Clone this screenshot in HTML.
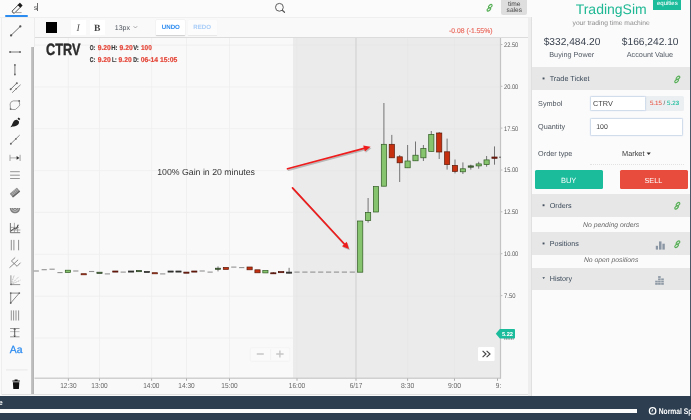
<!DOCTYPE html>
<html lang="en"><head><meta charset="utf-8"><title>TradingSim</title>
<style>
html,body{margin:0;padding:0}
body{text-rendering:geometricPrecision;width:691px;height:420px;overflow:hidden;position:relative;background:#fafafa;font-family:"Liberation Sans",sans-serif;color:#333}
.a{position:absolute;box-sizing:border-box}
#app{position:absolute;left:0;top:0;width:691px;height:420px;filter:blur(0.4px)}
#ov{position:absolute;overflow:visible;left:0;top:0;width:691px;height:420px;pointer-events:none}
.hdr{left:531.6px;width:158.3px;background:#e7e7e7}
.inp{background:#fff;border:0.9px solid #d2ddec;border-radius:1.5px;box-shadow:0 0 1.2px rgba(150,180,220,.45)}
.btn{border-radius:1.5px;height:19.1px;top:170.3px}
.tb{background:#fff;border-radius:0.5px;top:20.4px;height:14.4px}
.tb2{box-shadow:0 0.6px 1.2px rgba(0,0,0,.18)}
</style></head>
<body>
<div id="app">
<div class="a" id="topbar" style="left:-6px;top:-6px;width:538px;height:23.7px;background:#fbfbfb;border-bottom:1.4px solid #efefef"></div>
<div class="a" id="tools" style="left:0.5px;top:17.5px;width:33px;height:377.5px;background:#f9f9f9;border-left:1px solid #eeeeee"></div>
<div class="a" id="scroll" style="left:31px;top:47px;width:3.3px;height:348px;background:linear-gradient(90deg,#c8c8c8,#b2b2b2)"></div>
<div class="a" style="left:33.5px;top:18px;width:1.1px;height:29px;background:#ececec"></div>
<div class="a" id="charttb" style="left:34.5px;top:18px;width:494.5px;height:19.5px;background:#f9f9f9;border-bottom:1px solid #dcdcdc"></div>
<div class="a" id="chartbg" style="left:34.5px;top:38px;width:494.5px;height:357px;background:#f9f9f9"></div>
<div class="a" id="shade" style="left:293.1px;top:38px;width:207.4px;height:340px;background:#ebebeb"></div>
<div class="a" style="left:1.5px;top:394.2px;width:528.5px;height:1px;background:#e0e0e0"></div>
<div class="a" id="gutter" style="left:528.2px;top:17px;width:3.8px;height:380px;background:#eeeeee"></div>
<div class="a" id="sideborder" style="left:531.1px;top:17px;width:0.9px;height:380px;background:#e0e0e0"></div>
<div class="a" id="side" style="left:531.9px;top:-6px;width:158px;height:402.5px;background:#fbfbfb"></div>
<div class="a" id="edge" style="left:689.9px;top:-6px;width:7px;height:403px;background:#4a5868"></div>
<div class="a" id="bottom" style="left:-6px;top:396.3px;width:703px;height:30px;background:#2c3e50"></div>
<div class="a" id="progress" style="left:-6px;top:409.2px;width:643px;height:3.8px;background:#fcfcfc"></div>
<div class="a" style="left:5px;top:14.8px;width:23.2px;height:2px;background:#2d8cf0;border-radius:1px"></div>
<div class="a" style="left:37.3px;top:3.4px;width:0.6px;height:7.8px;background:#6a6a6a"></div>
<div class="a" style="left:501.4px;top:-6px;width:25.8px;height:21px;background:#dedede;border-radius:0 0 2px 2px"></div>
<div class="a" style="left:46.3px;top:22px;width:11px;height:10.6px;background:#000"></div>
<div class="a tb" style="left:71px;width:15px"></div>
<div class="a tb" style="left:89.6px;width:15px"></div>
<div class="a tb tb2" style="left:156.2px;width:29px"></div>
<div class="a tb" style="left:188.3px;width:28.3px;background:#fcfcfc;box-shadow:0 0.5px 1px rgba(0,0,0,.07)"></div>
<div class="a" style="left:653.2px;top:-6px;width:28.2px;height:16.3px;background:#1abc9c"></div>
<div class="a hdr" style="top:67px;height:22.7px"></div>
<div class="a" style="left:645px;top:95.6px;width:39px;height:15.2px;background:#eceff1;border-radius:0 1.5px 1.5px 0"></div>
<div class="a inp" style="left:589.8px;top:96.3px;width:56px;height:14.3px"></div>
<div class="a inp" style="left:589.9px;top:117.8px;width:93.6px;height:17.8px"></div>
<div class="a" style="left:589.5px;top:163.9px;width:94px;height:0;border-top:0.8px dotted #e2e2e2"></div>
<div class="a btn" style="left:534.8px;width:67.8px;background:#1abc9c"></div>
<div class="a btn" style="left:619.5px;width:68px;background:#e74c3c"></div>
<div class="a hdr" style="top:193.7px;height:23px"></div>
<div class="a hdr" style="top:232.3px;height:22.5px"></div>
<div class="a hdr" style="top:267.7px;height:22.8px"></div>
<svg id="ov" width="691" height="420" viewBox="0 0 691 420" font-family="Liberation Sans, sans-serif" text-rendering="geometricPrecision">
<g stroke="#eeeeee" stroke-width="0.8" fill="none">
<path d="M68.4 38V378"/>
<path d="M99.5 38V378"/>
<path d="M151.6 38V378"/>
<path d="M186.5 38V378"/>
<path d="M229.5 38V378"/>
<path d="M34.5 45.1H293.5"/>
<path d="M34.5 86.9H293.5"/>
<path d="M34.5 128.7H293.5"/>
<path d="M34.5 170.6H293.5"/>
<path d="M34.5 212.4H293.5"/>
<path d="M34.5 254.3H293.5"/>
<path d="M34.5 296.2H293.5"/>
<path d="M34.5 338.0H293.5"/>
</g>
<g stroke="#e6e6e6" stroke-width="0.7" fill="none">
<path d="M297 38V378"/>
<path d="M407.6 38V378"/>
<path d="M454.5 38V378"/>
<path d="M293.5 45.1H500"/>
<path d="M293.5 86.9H500"/>
<path d="M293.5 128.7H500"/>
<path d="M293.5 170.6H500"/>
<path d="M293.5 212.4H500"/>
<path d="M293.5 254.3H500"/>
<path d="M293.5 296.2H500"/>
</g>
<path d="M356 38V378" stroke="#d3d3d3" stroke-width="1.2"/>
<path d="M34.5 378.2H501" stroke="#d0d0d0" stroke-width="1.5"/>
<path d="M500.5 38V378.6" stroke="#c4c4c4" stroke-width="1.2"/>
<g stroke="#a5a5a5" stroke-width="0.7">
<path d="M501 44.5H502.4"/>
<path d="M501 86.3H502.4"/>
<path d="M501 128.1H502.4"/>
<path d="M501 170.0H502.4"/>
<path d="M501 211.8H502.4"/>
<path d="M501 253.70000000000002H502.4"/>
<path d="M501 295.6H502.4"/>
<path d="M68.4 378.6V380.8" stroke="#8a8a8a"/>
<path d="M99.5 378.6V380.8" stroke="#8a8a8a"/>
<path d="M151.6 378.6V380.8" stroke="#8a8a8a"/>
<path d="M186.5 378.6V380.8" stroke="#8a8a8a"/>
<path d="M229.5 378.6V380.8" stroke="#8a8a8a"/>
<path d="M297 378.6V380.8" stroke="#8a8a8a"/>
<path d="M407.6 378.6V380.8" stroke="#8a8a8a"/>
<path d="M454.5 378.6V380.8" stroke="#8a8a8a"/>
<path d="M356 378.6V380.8" stroke="#8a8a8a"/>
<path d="M497.5 378.6V380.8" stroke="#8a8a8a"/>
</g>
<g font-size="6.7" fill="#5a5a5a" lengthAdjust="spacingAndGlyphs">
<text x="504" y="46.9" textLength="14.2" lengthAdjust="spacingAndGlyphs">22.50</text>
<text x="504" y="88.7" textLength="14.2" lengthAdjust="spacingAndGlyphs">20.00</text>
<text x="504" y="130.5" textLength="14.2" lengthAdjust="spacingAndGlyphs">17.50</text>
<text x="504" y="172.4" textLength="14.2" lengthAdjust="spacingAndGlyphs">15.00</text>
<text x="504" y="214.2" textLength="14.2" lengthAdjust="spacingAndGlyphs">12.50</text>
<text x="504" y="256.1" textLength="14.2" lengthAdjust="spacingAndGlyphs">10.00</text>
<text x="504" y="298.0" textLength="11.5" lengthAdjust="spacingAndGlyphs">7.50</text>
</g>
<g font-size="7.3" fill="#666">
<text x="60.25" y="388.3" textLength="16.3" lengthAdjust="spacingAndGlyphs">12:30</text>
<text x="91.35" y="388.3" textLength="16.3" lengthAdjust="spacingAndGlyphs">13:00</text>
<text x="143.15" y="388.3" textLength="16.3" lengthAdjust="spacingAndGlyphs">14:00</text>
<text x="178.35" y="388.3" textLength="16.3" lengthAdjust="spacingAndGlyphs">14:30</text>
<text x="221.35" y="388.3" textLength="16.3" lengthAdjust="spacingAndGlyphs">15:00</text>
<text x="288.85" y="388.3" textLength="16.3" lengthAdjust="spacingAndGlyphs">16:00</text>
<text x="349.70" y="388.3" textLength="12.6" lengthAdjust="spacingAndGlyphs">6/17</text>
<text x="401.00" y="388.3" textLength="13.2" lengthAdjust="spacingAndGlyphs">8:30</text>
<text x="447.90" y="388.3" textLength="13.2" lengthAdjust="spacingAndGlyphs">9:00</text>
<text x="495.8" y="388.3" textLength="5.4" lengthAdjust="spacingAndGlyphs">9:</text>
</g>
<path d="M33.7 271H38.9" stroke="#929292" stroke-width="1.1"/>
<path d="M41.6 269.7H46.8" stroke="#929292" stroke-width="1.1"/>
<path d="M49.5 269.2H54.7" stroke="#929292" stroke-width="1.1"/>
<path d="M57.4 272.6H62.6" stroke="#929292" stroke-width="1.1"/>
<rect x="65.30" y="270.2" width="5.2" height="2.20" fill="#86c46d" stroke="#2f5a22" stroke-width="0.7"/>
<path d="M73.2 271H78.4" stroke="#929292" stroke-width="1.1"/>
<rect x="81.10" y="273.7" width="5.2" height="1.10" fill="#c7300f" stroke="#5a1a0a" stroke-width="0.7"/>
<path d="M89.0 271.5H94.2" stroke="#929292" stroke-width="1.1"/>
<rect x="96.90" y="272.2" width="5.2" height="1.20" fill="#4d7a3c" stroke="#2a3f22" stroke-width="0.7"/>
<path d="M104.8 273.9H110.0" stroke="#929292" stroke-width="1.1"/>
<rect x="112.70" y="271" width="5.2" height="1.10" fill="#8c1f0c" stroke="#4a1208" stroke-width="0.7"/>
<path d="M120.6 272.1H125.8" stroke="#929292" stroke-width="1.1"/>
<rect x="128.50" y="271" width="5.2" height="1.10" fill="#3a3a32" stroke="#2a2a2a" stroke-width="0.7"/>
<rect x="136.40" y="270.5" width="5.2" height="1.20" fill="#4d7a3c" stroke="#2a3f22" stroke-width="0.7"/>
<rect x="144.30" y="271.4" width="5.2" height="1.10" fill="#3a3a32" stroke="#2a2a2a" stroke-width="0.7"/>
<rect x="152.20" y="272.7" width="5.2" height="1.10" fill="#c7300f" stroke="#5a1a0a" stroke-width="0.7"/>
<path d="M160.1 273.9H165.3" stroke="#929292" stroke-width="1.1"/>
<rect x="168.00" y="271" width="5.2" height="1.10" fill="#3a3a32" stroke="#2a2a2a" stroke-width="0.7"/>
<rect x="175.90" y="271" width="5.2" height="1.10" fill="#3a3a32" stroke="#2a2a2a" stroke-width="0.7"/>
<rect x="183.80" y="272.1" width="5.2" height="1.10" fill="#8c1f0c" stroke="#4a1208" stroke-width="0.7"/>
<rect x="191.70" y="271" width="5.2" height="1.10" fill="#8c1f0c" stroke="#4a1208" stroke-width="0.7"/>
<path d="M199.6 271H204.8" stroke="#929292" stroke-width="1.1"/>
<path d="M207.5 272.1H212.7" stroke="#929292" stroke-width="1.1"/>
<path d="M218.0 266.4V271.4" stroke="#555" stroke-width="0.8"/>
<rect x="215.40" y="268.2" width="5.2" height="1.10" fill="#4d7a3c" stroke="#2a3f22" stroke-width="0.7"/>
<rect x="223.30" y="267.4" width="5.2" height="2.00" fill="#c7300f" stroke="#5a1a0a" stroke-width="0.7"/>
<path d="M231.2 267.1H236.4" stroke="#929292" stroke-width="1.1"/>
<path d="M239.1 267.6H244.3" stroke="#929292" stroke-width="1.1"/>
<rect x="247.00" y="267" width="5.2" height="2.80" fill="#c7300f" stroke="#5a1a0a" stroke-width="0.7"/>
<rect x="254.90" y="269.8" width="5.2" height="3.00" fill="#c7300f" stroke="#5a1a0a" stroke-width="0.7"/>
<rect x="262.80" y="270.5" width="5.2" height="2.40" fill="#86c46d" stroke="#2f5a22" stroke-width="0.7"/>
<path d="M273.3 272V274" stroke="#555" stroke-width="0.8"/>
<rect x="270.70" y="272.8" width="5.2" height="1.00" fill="#8c1f0c" stroke="#4a1208" stroke-width="0.7"/>
<rect x="278.60" y="271.6" width="5.2" height="1.10" fill="#8c1f0c" stroke="#4a1208" stroke-width="0.7"/>
<path d="M289.1 267.8V273.4" stroke="#555" stroke-width="0.8"/>
<rect x="286.50" y="272.1" width="5.2" height="1.10" fill="#3a3a32" stroke="#2a2a2a" stroke-width="0.7"/>
<path d="M294.4 272.1H299.6" stroke="#909090" stroke-width="1.1"/>
<path d="M302.3 272.1H307.5" stroke="#909090" stroke-width="1.1"/>
<path d="M310.2 272.1H315.4" stroke="#909090" stroke-width="1.1"/>
<path d="M318.1 272.1H323.3" stroke="#909090" stroke-width="1.1"/>
<path d="M326.0 272.1H331.2" stroke="#909090" stroke-width="1.1"/>
<path d="M333.9 272.1H339.1" stroke="#909090" stroke-width="1.1"/>
<path d="M341.8 272.1H347.0" stroke="#909090" stroke-width="1.1"/>
<path d="M349.7 272.1H354.9" stroke="#909090" stroke-width="1.1"/>
<rect x="357.60" y="221" width="5.2" height="51.20" fill="#86c46d" stroke="#2f5a22" stroke-width="0.7"/>
<path d="M368.1 198V222.6" stroke="#555" stroke-width="0.8"/>
<rect x="365.50" y="212.4" width="5.2" height="8.20" fill="#86c46d" stroke="#2f5a22" stroke-width="0.7"/>
<rect x="373.40" y="186.6" width="5.2" height="25.40" fill="#86c46d" stroke="#2f5a22" stroke-width="0.7"/>
<path d="M383.9 103V186.2" stroke="#555" stroke-width="0.8"/>
<rect x="381.30" y="144.3" width="5.2" height="41.90" fill="#86c46d" stroke="#2f5a22" stroke-width="0.7"/>
<path d="M391.8 134.9V157.8" stroke="#555" stroke-width="0.8"/>
<rect x="389.20" y="144.3" width="5.2" height="13.50" fill="#c7300f" stroke="#5a1a0a" stroke-width="0.7"/>
<path d="M399.7 155V182" stroke="#555" stroke-width="0.8"/>
<rect x="397.10" y="156.8" width="5.2" height="6.00" fill="#c7300f" stroke="#5a1a0a" stroke-width="0.7"/>
<path d="M407.6 145V167.8" stroke="#555" stroke-width="0.8"/>
<rect x="405.00" y="161" width="5.2" height="6.80" fill="#86c46d" stroke="#2f5a22" stroke-width="0.7"/>
<path d="M415.5 141.5V160.8" stroke="#555" stroke-width="0.8"/>
<rect x="412.90" y="155.2" width="5.2" height="5.60" fill="#86c46d" stroke="#2f5a22" stroke-width="0.7"/>
<path d="M423.4 145V161" stroke="#555" stroke-width="0.8"/>
<rect x="420.80" y="148.6" width="5.2" height="9.20" fill="#86c46d" stroke="#2f5a22" stroke-width="0.7"/>
<path d="M431.3 131V151.4" stroke="#555" stroke-width="0.8"/>
<rect x="428.70" y="134.4" width="5.2" height="17.00" fill="#86c46d" stroke="#2f5a22" stroke-width="0.7"/>
<path d="M439.2 132V159" stroke="#555" stroke-width="0.8"/>
<rect x="436.60" y="133" width="5.2" height="19.00" fill="#c7300f" stroke="#5a1a0a" stroke-width="0.7"/>
<path d="M447.1 138.6V169.6" stroke="#555" stroke-width="0.8"/>
<rect x="444.50" y="151.8" width="5.2" height="12.80" fill="#c7300f" stroke="#5a1a0a" stroke-width="0.7"/>
<path d="M455.0 159.5V173.4" stroke="#555" stroke-width="0.8"/>
<rect x="452.40" y="165.4" width="5.2" height="6.00" fill="#c7300f" stroke="#5a1a0a" stroke-width="0.7"/>
<path d="M462.9 162.4V174" stroke="#555" stroke-width="0.8"/>
<rect x="460.30" y="168.8" width="5.2" height="3.00" fill="#86c46d" stroke="#2f5a22" stroke-width="0.7"/>
<path d="M470.8 164.7V169.6" stroke="#555" stroke-width="0.8"/>
<rect x="468.20" y="165.9" width="5.2" height="1.30" fill="#4d7a3c" stroke="#2a3f22" stroke-width="0.7"/>
<path d="M478.7 161.8V168.7" stroke="#555" stroke-width="0.8"/>
<rect x="476.10" y="163.9" width="5.2" height="2.00" fill="#86c46d" stroke="#2f5a22" stroke-width="0.7"/>
<path d="M486.6 156V166.7" stroke="#555" stroke-width="0.8"/>
<rect x="484.00" y="159.9" width="5.2" height="4.70" fill="#86c46d" stroke="#2f5a22" stroke-width="0.7"/>
<path d="M494.5 146.4V164.7" stroke="#555" stroke-width="0.8"/>
<rect x="491.90" y="157" width="5.2" height="1.30" fill="#8c1f0c" stroke="#4a1208" stroke-width="0.7"/>
<path d="M499.2 157.2H500.8" stroke="#444" stroke-width="1"/>
<g opacity="0.3" transform="translate(0.9,1.3)">
<path d="M287.5 168.8L364.0 148.4" stroke="#444" stroke-width="1.7" stroke-linecap="round"/>
<path d="M370.6 146.7L364.9 151.5L363.2 145.4Z" fill="#444"/>
<path d="M292.5 187.9L344.4 244.0" stroke="#444" stroke-width="1.7" stroke-linecap="round"/>
<path d="M349 249L342.0 246.2L346.7 241.8Z" fill="#444"/>
</g>
<path d="M287.5 168.8L364.0 148.4" stroke="#ee1c1c" stroke-width="1.7" stroke-linecap="round"/>
<path d="M370.6 146.7L364.9 151.5L363.2 145.4Z" fill="#ee1c1c"/>
<path d="M292.5 187.9L344.4 244.0" stroke="#ee1c1c" stroke-width="1.7" stroke-linecap="round"/>
<path d="M349 249L342.0 246.2L346.7 241.8Z" fill="#ee1c1c"/>
<text x="157.2" y="174.9" font-size="8.75" fill="#333">100% Gain in 20 minutes</text>
<text x="46.1" y="55.2" font-size="16.4" font-weight="bold" fill="#2b2b2b" stroke="#2b2b2b" stroke-width="0.4" textLength="34.3" lengthAdjust="spacingAndGlyphs">CTRV</text>
<text x="89.7" y="49.5" font-size="7" font-weight="bold" fill="#3c3c3c" stroke="#3c3c3c" stroke-width="0.22" textLength="5.4" lengthAdjust="spacingAndGlyphs">O:</text>
<text x="97.7" y="49.5" font-size="7" font-weight="bold" fill="#e5483b" stroke="#e5483b" stroke-width="0.22" textLength="13.1" lengthAdjust="spacingAndGlyphs">9.20</text>
<text x="111.3" y="49.5" font-size="7" font-weight="bold" fill="#3c3c3c" stroke="#3c3c3c" stroke-width="0.22" textLength="6.2" lengthAdjust="spacingAndGlyphs">H:</text>
<text x="119.6" y="49.5" font-size="7" font-weight="bold" fill="#e5483b" stroke="#e5483b" stroke-width="0.22" textLength="13.1" lengthAdjust="spacingAndGlyphs">9.20</text>
<text x="133.2" y="49.5" font-size="7" font-weight="bold" fill="#3c3c3c" stroke="#3c3c3c" stroke-width="0.22" textLength="5.6" lengthAdjust="spacingAndGlyphs">V:</text>
<text x="141" y="49.5" font-size="7" font-weight="bold" fill="#e5483b" stroke="#e5483b" stroke-width="0.22" textLength="10.8" lengthAdjust="spacingAndGlyphs">100</text>
<text x="89.7" y="62" font-size="7" font-weight="bold" fill="#3c3c3c" stroke="#3c3c3c" stroke-width="0.22" textLength="5.4" lengthAdjust="spacingAndGlyphs">C:</text>
<text x="97.7" y="62" font-size="7" font-weight="bold" fill="#e5483b" stroke="#e5483b" stroke-width="0.22" textLength="13.1" lengthAdjust="spacingAndGlyphs">9.20</text>
<text x="111.9" y="62" font-size="7" font-weight="bold" fill="#3c3c3c" stroke="#3c3c3c" stroke-width="0.22" textLength="4.7" lengthAdjust="spacingAndGlyphs">L:</text>
<text x="118.6" y="62" font-size="7" font-weight="bold" fill="#e5483b" stroke="#e5483b" stroke-width="0.22" textLength="13.0" lengthAdjust="spacingAndGlyphs">9.20</text>
<text x="133.2" y="62" font-size="7" font-weight="bold" fill="#3c3c3c" stroke="#3c3c3c" stroke-width="0.22" textLength="5.5" lengthAdjust="spacingAndGlyphs">D:</text>
<text x="140.8" y="62" font-size="7" font-weight="bold" fill="#e5483b" stroke="#e5483b" stroke-width="0.22" textLength="36.5" lengthAdjust="spacingAndGlyphs">06-14 15:05</text>
<path d="M495.8 333.8L499.8 329H514.2Q515 329 515 329.8V337.8Q515 338.6 514.2 338.6H499.8Z" fill="#1abc9c"/>
<path d="M504.2 339H514" stroke="#1a2a2a" stroke-width="0.7" stroke-dasharray="1 0.7"/>
<text x="507.5" y="336" font-size="5.7" font-weight="bold" fill="#fff" text-anchor="middle">5.22</text>
<rect x="478" y="347" width="16.6" height="14" rx="1.2" fill="#fff"/>
<path d="M482.6 350.8L486 354L482.6 357.2M486.6 350.8L490 354L486.6 357.2" stroke="#444" stroke-width="1.15" fill="none"/>
<rect x="250.2" y="347.8" width="39.6" height="13.4" rx="1.2" fill="#fafafa" stroke="#f0f0f0" stroke-width="0.6"/>
<path d="M270.6 349V360" stroke="#ececec" stroke-width="0.6"/>
<path d="M256.8 354H263.8M276.2 354H283.6M279.9 350.4V357.6" stroke="#c6c6c6" stroke-width="1.4"/>
<g transform="translate(17.2,8.2) rotate(-45)"><path d="M-5.6 -1.55H3.2V1.55H-5.6Q-7 0 -5.6 -1.55Z" stroke="#444" stroke-width="0.9" fill="none" stroke-linejoin="round"/><path d="M2.6 -2H5.3Q5.8 -2 5.8 -1.5V1.5Q5.8 2 5.3 2H2.6Z" fill="#1c1c1c"/></g>
<path d="M15.8 12.6H21.6" stroke="#888" stroke-width="0.8"/>
<circle cx="279.4" cy="7.3" r="3.9" stroke="#555" stroke-width="0.95" fill="none"/><path d="M282.3 10.3L284.5 12.3" stroke="#555" stroke-width="1.2" stroke-linecap="round"/>
<path d="M133.6 26.2L135.4 28L137.2 26.2" stroke="#888" stroke-width="0.7" fill="none"/>
<path d="M646.6 152.6H650.8L648.7 154.9Z" fill="#333"/>
<g transform="translate(489.6,7.8) rotate(-40)" stroke="#58b058" stroke-width="1.2" fill="none"><ellipse cx="-1.55" cy="0.75" rx="2.15" ry="1.2"/><ellipse cx="1.55" cy="-0.75" rx="2.15" ry="1.2"/></g>
<g transform="translate(677.3,79.4) rotate(-40)" stroke="#58b058" stroke-width="1.2" fill="none"><ellipse cx="-1.55" cy="0.75" rx="2.15" ry="1.2"/><ellipse cx="1.55" cy="-0.75" rx="2.15" ry="1.2"/></g>
<g transform="translate(677.3,205.8) rotate(-40)" stroke="#58b058" stroke-width="1.2" fill="none"><ellipse cx="-1.55" cy="0.75" rx="2.15" ry="1.2"/><ellipse cx="1.55" cy="-0.75" rx="2.15" ry="1.2"/></g>
<g transform="translate(677.3,244.2) rotate(-40)" stroke="#58b058" stroke-width="1.2" fill="none"><ellipse cx="-1.55" cy="0.75" rx="2.15" ry="1.2"/><ellipse cx="1.55" cy="-0.75" rx="2.15" ry="1.2"/></g>
<rect x="542.6" y="77.5" width="1.9" height="1.9" fill="#46525f"/>
<rect x="542.6" y="204.29999999999998" width="1.9" height="1.9" fill="#46525f"/>
<rect x="542.6" y="242.5" width="1.9" height="1.9" fill="#46525f"/>
<path d="M542.4 277.3H545L543.7 279.1Z" fill="#3b4a5a"/>
<g fill="#8a96a3"><rect x="655.8" y="245.8" width="2.2" height="3.8"/><rect x="659" y="241.4" width="2.5" height="8.2"/><rect x="662.4" y="243.7" width="2.4" height="5.9"/></g>
<g fill="#8e99a5">
<rect x="655.2" y="280.7" width="2.6" height="1.8"/>
<rect x="655.2" y="283" width="2.6" height="1.8"/>
<rect x="658.1" y="276.1" width="2.6" height="1.8"/>
<rect x="658.1" y="278.4" width="2.6" height="1.8"/>
<rect x="658.1" y="280.7" width="2.6" height="1.8"/>
<rect x="658.1" y="283" width="2.6" height="1.8"/>
<rect x="661.2" y="278.4" width="2.6" height="1.8"/>
<rect x="661.2" y="280.7" width="2.6" height="1.8"/>
<rect x="661.2" y="283" width="2.6" height="1.8"/>
</g>
<circle cx="652.6" cy="410.9" r="3.2" stroke="#fff" stroke-width="1.3" fill="none"/><path d="M652.6 409.1V411.1H651.2" stroke="#fff" stroke-width="0.8" fill="none"/>
<g stroke="#505050" stroke-width="0.75" fill="none" stroke-linecap="round">
<path d="M11.1 35.3L20.3 26.4" stroke="#4a4a4a" stroke-width="0.8"/>
<circle cx="11.1" cy="35.4" r="1.15" fill="#555" stroke="none"/>
<circle cx="20.3" cy="26.4" r="1.15" fill="#555" stroke="none"/>
<path d="M10 52H20.2"/>
<circle cx="10.1" cy="52" r="0.95" fill="#666" stroke="none"/>
<circle cx="20" cy="52" r="0.95" fill="#666" stroke="none"/>
<path d="M14.9 65V74.4"/>
<circle cx="14.9" cy="64.9" r="0.9" fill="#666" stroke="none"/>
<circle cx="14.9" cy="74.5" r="0.9" fill="#666" stroke="none"/>
<path d="M10.7 89.2L16.8 83.1"/><path d="M12.4 92.5L20.3 85" stroke-width="0.65"/>
<circle cx="10.7" cy="89.2" r="1" fill="#666" stroke="none"/>
<circle cx="16.8" cy="83.2" r="1" fill="#666" stroke="none"/>
<circle cx="16.2" cy="88.8" r="0.8" fill="#666" stroke="none"/>
<path d="M10.5 109L10.1 104Q10.6 101.2 13.4 100.9L19.2 100.9L19.7 104.8Q19.4 106.4 18 107.2L15.6 109.3Z" stroke="#777" stroke-width="0.7"/>
<circle cx="10.6" cy="109" r="0.9" fill="#777" stroke="none"/>
<circle cx="19.2" cy="100.9" r="0.9" fill="#666" stroke="none"/>
</g>
<path d="M17 119.8L19 121.6C19.4 124 17.8 125.8 15 126.2C13.2 126.4 11.8 126.6 10.4 127.3C11.6 125.8 12 124.6 12.6 123.2C13.6 120.8 15.2 119.6 17 119.8Z M17.5 118.7L18.7 117.4L20.3 119L19.1 120.3Z" fill="#222"/>
<g stroke="#505050" stroke-width="0.75" fill="none" stroke-linecap="round">
<path d="M10.9 143.7L19.4 135.4" stroke-width="0.7"/>
<circle cx="10.9" cy="143.7" r="1" fill="#666" stroke="none"/>
<circle cx="15.9" cy="138.9" r="0.85" fill="#666" stroke="none"/>
<path d="M10 155.2V160.6M20.1 155.2V160.6" stroke="#999" stroke-width="0.9"/><path d="M10.4 157.9H17" stroke="#999" stroke-width="0.8"/><path d="M16.6 156L19.5 157.9L16.6 159.8Z" fill="#333" stroke="none"/>
<path d="M10.1 171.7H19.8M10.1 175.2H19.8M10.1 178.5H19.8" stroke-width="0.9" stroke="#8a8a8a" stroke-linecap="butt"/>
</g>
<g transform="translate(14.9,192.6) rotate(-40)"><rect x="-4.7" y="-2.5" width="9.4" height="5" rx="0.6" fill="#909090"/><path d="M-2.4 -2.5V1.4M-0.6 -2.5V1.4M1.2 -2.5V1.4M3 -2.5V1.4" stroke="#c8c8c8" stroke-width="0.5"/><rect x="-4.7" y="1.3" width="9.4" height="1.3" fill="#666"/></g>
<path d="M9.8 207.9H20.2C20 211.2 17.8 213.3 15 213.3C12.2 213.3 10 211.2 9.8 207.9Z" fill="#808080"/><path d="M11.5 208.4C12 210.4 13.4 211.3 15 211.3C16.6 211.3 18 210.4 18.5 208.4M13.4 208.2C13.7 209.2 14.3 209.6 15 209.6C15.7 209.6 16.3 209.2 16.6 208.2" stroke="#f0f0f0" stroke-width="0.6" fill="none"/>
<g stroke="#777" stroke-width="0.6" fill="none"><path d="M10.4 223V232.7H20.2" stroke="#555" stroke-width="0.8"/><path d="M14.4 222.8V232.6M17.6 224.6V232.6M10.4 227.4H19M10.4 230H20.4"/><path d="M10.9 231.2L14.2 228.4L16 229L18.4 224.8" stroke="#333" stroke-width="0.9"/></g>
<g stroke="#828282" stroke-width="0.9" fill="none" stroke-linecap="butt">
<path d="M11.3 239.9V250.3M13.9 239.9V250.3M18.6 239.9V250.3"/>
<path d="M9.5 267.7L14.3 263.4M11.4 261L17.1 266.3M11.4 261L15.2 257.5M14.3 263.4L18.1 259.8M17.1 266.3L20.5 262.7" stroke="#666" stroke-width="0.75"/>
<path d="M10.9 275.3V284.6H20.2" stroke="#8a8a8a" stroke-width="0.9"/><path d="M11 284.5L14.3 275M11 284.5L18.6 276.9M11 284.5L20.4 280.2" stroke="#999" stroke-width="0.6" stroke-dasharray="1.6 0.8"/>
<circle cx="11" cy="284.5" r="0.8" fill="#666" stroke="none"/>
<path d="M10.7 303V293.1H19.3L10.7 303" stroke="#666" stroke-width="0.75"/>
<circle cx="10.7" cy="293.1" r="0.9" fill="#666" stroke="none"/>
<circle cx="19.3" cy="293.1" r="0.9" fill="#666" stroke="none"/>
<circle cx="10.7" cy="303" r="0.9" fill="#666" stroke="none"/>
<path d="M11.3 310.4V320.5M13.6 310.4V320.5M16 310.4V320.5M18.6 310.4V320.5" stroke-width="0.85"/>
<path d="M10.1 328.5H19.5M10.1 336.8H19.5" stroke="#777" stroke-width="0.75"/><path d="M10.1 331.6H19.5" stroke="#aaa" stroke-width="0.7"/><path d="M14.7 328.6V336.8" stroke="#333" stroke-width="0.8"/><path d="M13.8 329.8L14.7 328.6L15.6 329.8M13.8 335.6L14.7 336.8L15.6 335.6" stroke="#333" stroke-width="0.6"/>
</g>
<path d="M6 369.9H27.6" stroke="#e3e3e3" stroke-width="0.8"/>
<path d="M12.4 380.6H19.8V381.6H12.4Z M14.6 379.4H17.6V380.6H14.6Z M12.9 382.2H19.3L18.9 389H13.3Z" fill="#111"/>
<g id="labels">
<text x="33.8" y="9.85" font-size="7" fill="#555">s</text>
<text x="514.3" y="6.14" font-size="6.6" fill="#444" text-anchor="middle">time</text>
<text x="514.3" y="12.04" font-size="6.6" fill="#444" text-anchor="middle">sales</text>
<text x="78.2" y="30.77" font-size="9.8" fill="#555" font-style="italic" font-family="Liberation Serif, serif" text-anchor="middle">I</text>
<text x="97.1" y="30.70" font-size="9.6" fill="#444" font-weight="bold" font-family="Liberation Serif, serif" text-anchor="middle">B</text>
<text x="114.8" y="29.60" font-size="7.0" fill="#4d535c">13px</text>
<text x="170.85" y="29.42" font-size="6.15" fill="#2d8cf0" font-weight="bold" text-anchor="middle">UNDO</text>
<text x="202.2" y="29.42" font-size="6.15" fill="#a9cdf8" font-weight="bold" text-anchor="middle">REDO</text>
<text x="449" y="32.74" font-size="6.81" fill="#ea6a5e" stroke="#ea6a5e" stroke-width="0.15">-0.08 (-1.55%)</text>
<text x="611.2" y="13.52" font-size="14" fill="#1fb894" text-anchor="middle">TradingSim</text>
<text x="667.3" y="4.88" font-size="6" fill="#fff" text-anchor="middle" stroke="#fff" stroke-width="0.05">equities</text>
<text x="611.1" y="24.57" font-size="6.71" fill="#8a8a8a" text-anchor="middle">your trading time machine</text>
<text x="572" y="44.61" font-size="10.2" fill="#3b4350" text-anchor="middle">$332,484.20</text>
<text x="650.2" y="44.61" font-size="10.2" fill="#3b4350" text-anchor="middle">$166,242.10</text>
<text x="571.7" y="57.08" font-size="7.27" fill="#525a64" text-anchor="middle">Buying Power</text>
<text x="649.9" y="57.08" font-size="7.27" fill="#525a64" text-anchor="middle">Account Value</text>
<text x="549.7" y="81.09" font-size="7.3" fill="#3b4a5a">Trade Ticket</text>
<text x="538.1" y="106.08" font-size="7.25" fill="#4a525c">Symbol</text>
<text x="593" y="105.72" font-size="7.32" fill="#444">CTRV</text>
<text x="649.9" y="105.33" font-size="6.18" fill="#555"><tspan fill="#e8584a" stroke="#e8584a" stroke-width="0.1">5.15</tspan> / <tspan fill="#1abc9c" stroke="#1abc9c" stroke-width="0.1">5.23</tspan></text>
<text x="538.1" y="129.18" font-size="7.25" fill="#4a525c">Quantity</text>
<text x="596.2" y="128.69" font-size="6.95" fill="#444">100</text>
<text x="538.1" y="155.68" font-size="7.25" fill="#4a525c">Order type</text>
<text x="622" y="155.71" font-size="7.36" fill="#3a3a3a">Market</text>
<text x="568.6" y="182.58" font-size="7.5" fill="#fff" text-anchor="middle">BUY</text>
<text x="653.4" y="182.51" font-size="7.3" fill="#fff" text-anchor="middle">SELL</text>
<text x="549.7" y="207.56" font-size="7.2" fill="#3b4a5a">Orders</text>
<text x="611.2" y="226.50" font-size="6.83" fill="#666" font-style="italic" text-anchor="middle">No pending orders</text>
<text x="549.7" y="246.16" font-size="7.2" fill="#3b4a5a">Positions</text>
<text x="611.1" y="262.10" font-size="6.81" fill="#666" font-style="italic" text-anchor="middle">No open positions</text>
<text x="549.7" y="280.56" font-size="7.2" fill="#3b4a5a">History</text>
<text x="-1.5" y="405.21" font-size="7.6" fill="#fff" font-weight="bold">e</text>
<text x="658.7" y="414.06" font-size="8.2" fill="#fff" font-weight="bold" textLength="45.3" lengthAdjust="spacingAndGlyphs">Normal Speed</text>
<text x="9.8" y="353.08" font-size="10.4" fill="#2d8cf0" stroke="#2d8cf0" stroke-width="0.25">Aa</text>
</g>
</svg>
</div>
</body></html>
